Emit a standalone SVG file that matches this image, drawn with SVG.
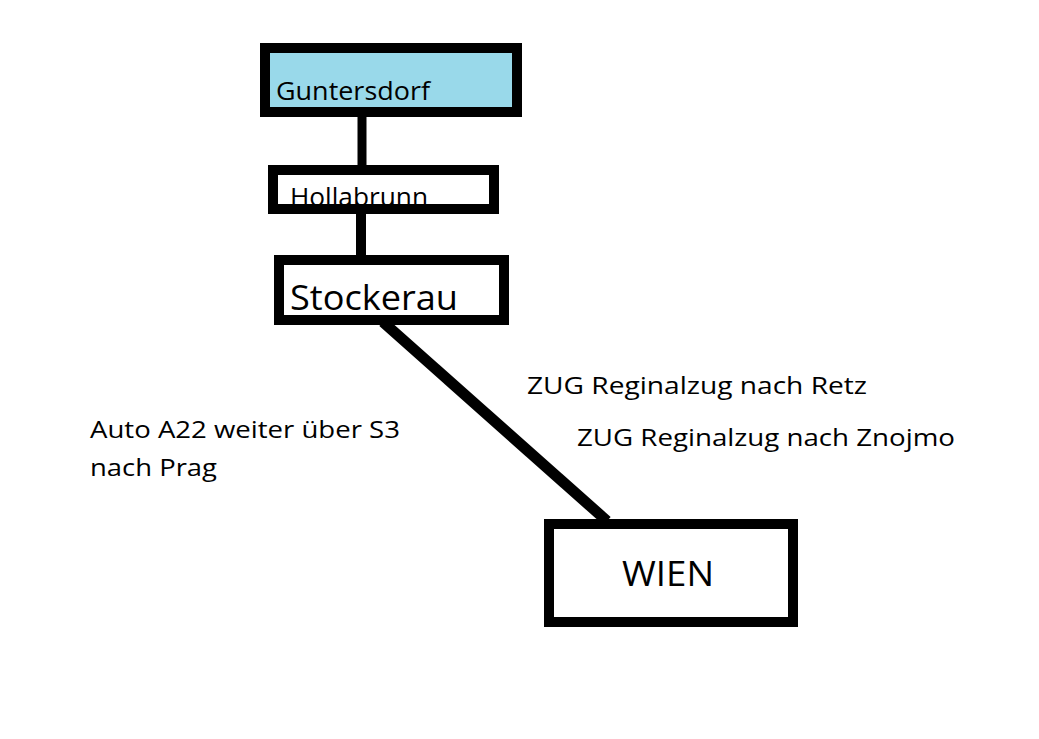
<svg xmlns="http://www.w3.org/2000/svg" width="1039" height="739" viewBox="0 0 1039 739">
<style>
.box{fill:#fff;stroke:#000;stroke-width:10}
.t{font-family:"Open Sans","Noto Sans","DejaVu Sans",sans-serif;fill:#000}
.c{stroke:#000;fill:none}
</style>
<rect width="1039" height="739" fill="#fff"/>
<g id="connectors">
<line class="c" x1="362" y1="117" x2="362" y2="165" stroke-width="9"/>
<line class="c" x1="361" y1="214" x2="361" y2="255" stroke-width="10"/>
<line class="c" x1="383" y1="322" x2="607" y2="521" stroke-width="11"/>
</g>
<g id="guntersdorf">
<rect class="box" x="265" y="48" width="252" height="64" style="fill:#99D9EA"/>
<text class="t" x="276" y="100" font-size="26" textLength="154" lengthAdjust="spacingAndGlyphs">Guntersdorf</text>
</g>
<g id="hollabrunn">
<rect x="278" y="175" width="211" height="29" fill="#fff"/>
<text class="t" x="290" y="206" font-size="26" textLength="138" lengthAdjust="spacingAndGlyphs">Hollabrunn</text>
<rect class="box" x="273" y="170" width="221" height="39" style="fill:none"/>
</g>
<g id="stockerau">
<rect class="box" x="279" y="260" width="225" height="60"/>
<text class="t" x="290" y="310" font-size="35" textLength="168" lengthAdjust="spacingAndGlyphs">Stockerau</text>
</g>
<g id="wien">
<rect class="box" x="549" y="524" width="244" height="98"/>
<text class="t" x="622" y="586" font-size="34" textLength="92" lengthAdjust="spacingAndGlyphs">WIEN</text>
</g>
<g id="labels">
<text class="t" x="90" y="438" font-size="24" textLength="310" lengthAdjust="spacingAndGlyphs">Auto A22 weiter über S3</text>
<text class="t" x="90" y="476" font-size="24" textLength="127" lengthAdjust="spacingAndGlyphs">nach Prag</text>
<text class="t" x="527" y="394" font-size="24" textLength="340" lengthAdjust="spacingAndGlyphs">ZUG Reginalzug nach Retz</text>
<text class="t" x="577" y="446" font-size="24" textLength="378" lengthAdjust="spacingAndGlyphs">ZUG Reginalzug nach Znojmo</text>
</g>
</svg>
